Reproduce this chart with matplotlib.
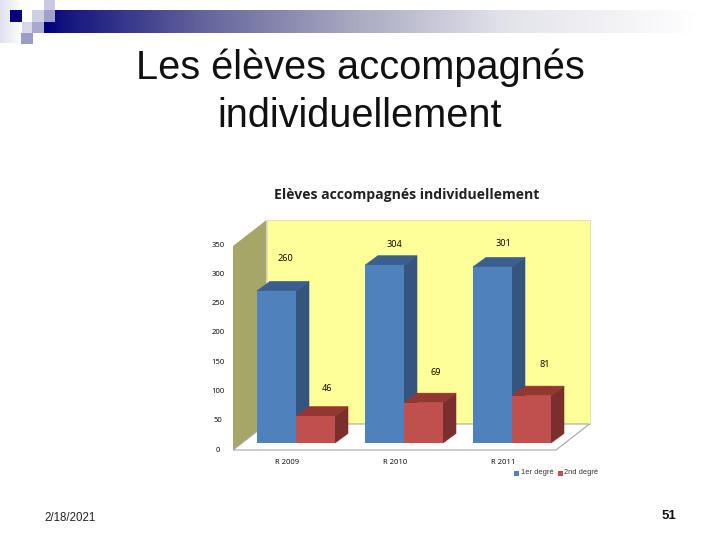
import numpy as np
import matplotlib
matplotlib.use("Agg")
import matplotlib.pyplot as plt
from matplotlib.colors import LinearSegmentedColormap
from matplotlib.patches import Polygon, Rectangle

categories = ["R 2009", "R 2010", "R 2011"]
series_names = ["1er degré", "2nd degré"]
values_1er = [260, 304, 301]
values_2nd = [46, 69, 81]
y_ticks = [0, 50, 100, 150, 200, 250, 300, 350]

# styles
FRONT = ["#4f81bd", "#c0504d"]
SIDE = ["#35557f", "#7a2f2c"]
TOP = ["#395f8e", "#943632"]
WALL = "#ffff99"
LEFT_WALL = "#a6a668"

# pixel scale of the chart
PX_X = 108.0
PX_Y = 0.585
DX = 13 / PX_X
DY = 9.5 / PX_Y
BAR_W = 39 / PX_X

plt.rcParams["font.family"] = ["Liberation Sans", "DejaVu Sans"]
fig = plt.figure(figsize=(7.2, 5.4), dpi=100, facecolor="white")


def fx(px):
    return px / 720


def fy(py):
    return 1 - py / 540


# slide decoration, in pixels
deco = fig.add_axes([0, 0, 1, 1])
deco.axis("off")

cmap = LinearSegmentedColormap.from_list(
    "banner",
    [(0, "#000080"), (0.03, "#14147f"), (0.24, "#64649c"), (0.47, "#a8a8c0"), (0.7, "#e2e2ea"), (1, "#ffffff")],
)
grad = np.linspace(0, 1, 400).reshape(1, -1)
deco.imshow(grad, extent=(44, 700, 33, 10), cmap=cmap, aspect="auto", zorder=1)
deco.imshow(
    np.linspace(0.45, 0, 50).reshape(1, -1),
    extent=(0, 22, 43, 0),
    cmap=LinearSegmentedColormap.from_list("pale", ["#ffffff", "#b9b9dc"]),
    vmin=0,
    vmax=1,
    aspect="auto",
    zorder=1,
)
squares = [
    (10, 10, 12, 12, "#00007f"),
    (22, 10, 10, 12, "#ffffff"),
    (22, 22, 10, 11, "#d8d8ea"),
    (32, 10, 12, 12, "#cfcfe4"),
    (44, 0, 11, 10, "#c8c8e0"),
    (44, 10, 11, 12, "#a0a0ca"),
    (32, 22, 12, 11, "#a8a8d0"),
    (21, 33, 12, 11, "#9c9cc8"),
]
for x, y, w, h, c in squares:
    deco.add_patch(Rectangle((x, y), w, h, fc=c, ec="none", zorder=2))
deco.set_xlim(0, 720)
deco.set_ylim(540, 0)

# chart, x in category units and y in data values
ax = fig.add_axes([0, 0, 1, 1])
ax.patch.set_alpha(0)
ax.axis("off")
ax.set_xlim(-296 / PX_X, (720 - 296) / PX_X)
ax.set_ylim((443 - 540) / PX_Y, 443 / PX_Y)

x_left = (233 - 296) / PX_X
x_right = (556 - 296) / PX_X
y0 = -7 / PX_Y
wall_dx = 33.5 / PX_X
wall_dy = 26 / PX_Y
wall_top = y0 + 204 / PX_Y

ax.add_patch(Polygon([(x_left + wall_dx, y0 + wall_dy), (x_right + wall_dx, y0 + wall_dy),
                      (x_right + wall_dx, wall_top + wall_dy), (x_left + wall_dx, wall_top + wall_dy)],
                     fc=WALL, ec="#d8d8a0", lw=0.5, zorder=1))
ax.add_patch(Polygon([(x_left, y0), (x_left + wall_dx, y0 + wall_dy),
                      (x_left + wall_dx, wall_top + wall_dy), (x_left, wall_top)],
                     fc=LEFT_WALL, ec="none", zorder=2))
ax.add_patch(Polygon([(x_left, y0), (x_left + wall_dx, y0 + wall_dy),
                      (x_right + wall_dx, y0 + wall_dy), (x_right, y0)],
                     fc="white", ec="#a8a8a0", lw=0.8, zorder=2))


def draw_bar(x, v, s, z):
    ax.add_patch(Polygon([(x + BAR_W, 0), (x + BAR_W + DX, DY), (x + BAR_W + DX, v + DY), (x + BAR_W, v)],
                         fc=SIDE[s], ec=SIDE[s], lw=0.4, zorder=z))
    ax.add_patch(Polygon([(x, v), (x + DX, v + DY), (x + BAR_W + DX, v + DY), (x + BAR_W, v)],
                         fc=TOP[s], ec=TOP[s], lw=0.4, zorder=z))
    ax.bar(x, v, width=BAR_W, align="edge", color=FRONT[s], zorder=z + 1)


for i in range(len(categories)):
    draw_bar(i - BAR_W, values_1er[i], 0, 3 + i * 3)
    draw_bar(i, values_2nd[i], 1, 5 + i * 3)

# value labels sit where the source chart put them, not right on the bars
offs_1er = [(9, 32), (10, 21), (11, 23)]
offs_2nd = [(12, 28), (12, 30), (13, 31)]
for i in range(len(categories)):
    ax.annotate(str(values_1er[i]), (i - BAR_W / 2, values_1er[i]), xytext=offs_1er[i],
                textcoords="offset pixels", ha="center", va="center", fontsize=6.6,
                family="Open Sans", zorder=20)
    ax.annotate(str(values_2nd[i]), (i + BAR_W / 2, values_2nd[i]), xytext=offs_2nd[i],
                textcoords="offset pixels", ha="center", va="center", fontsize=6.6,
                family="Open Sans", zorder=20)

for v in y_ticks:
    ax.annotate(str(v), (x_left, y0 + v), xytext=(-15, 0), textcoords="offset pixels",
                ha="center", va="center", fontsize=5.5, family="Open Sans", zorder=20)
for i, c in enumerate(categories):
    ax.annotate(c, (i, y0), xytext=(-9, -13), textcoords="offset pixels",
                ha="center", va="center", fontsize=5.5, family="Open Sans", zorder=20)

# texts
fig.text(fx(360), fy(68), "Les élèves accompagnés", ha="center", va="center", fontsize=28.6, color="#111111")
fig.text(fx(360), fy(116), "individuellement", ha="center", va="center", fontsize=28.6, color="#111111")
fig.text(fx(407), fy(195), "Elèves accompagnés individuellement", ha="center", va="center",
         fontsize=10.1, fontweight="bold", family="Open Sans", color="#222222")
fig.text(fx(70), fy(518), "2/18/2021", ha="center", va="center", fontsize=8.3, color="#222222")
fig.text(fx(669), fy(516), "51", ha="center", va="center", fontsize=9.5, fontweight="bold", color="#111111")

# legend
deco_leg = [(514, FRONT[0], 521), (558, FRONT[1], 564)]
for (sx, col, tx), name in zip(deco_leg, series_names):
    fig.patches.append(Rectangle((fx(sx), fy(476)), 5 / 720, 5 / 540, fc=col, ec="none",
                                 transform=fig.transFigure))
    fig.text(fx(tx), fy(472.5), name, ha="left", va="center", fontsize=5.4, color="#333333")

fig.savefig("out.png", dpi=100)
